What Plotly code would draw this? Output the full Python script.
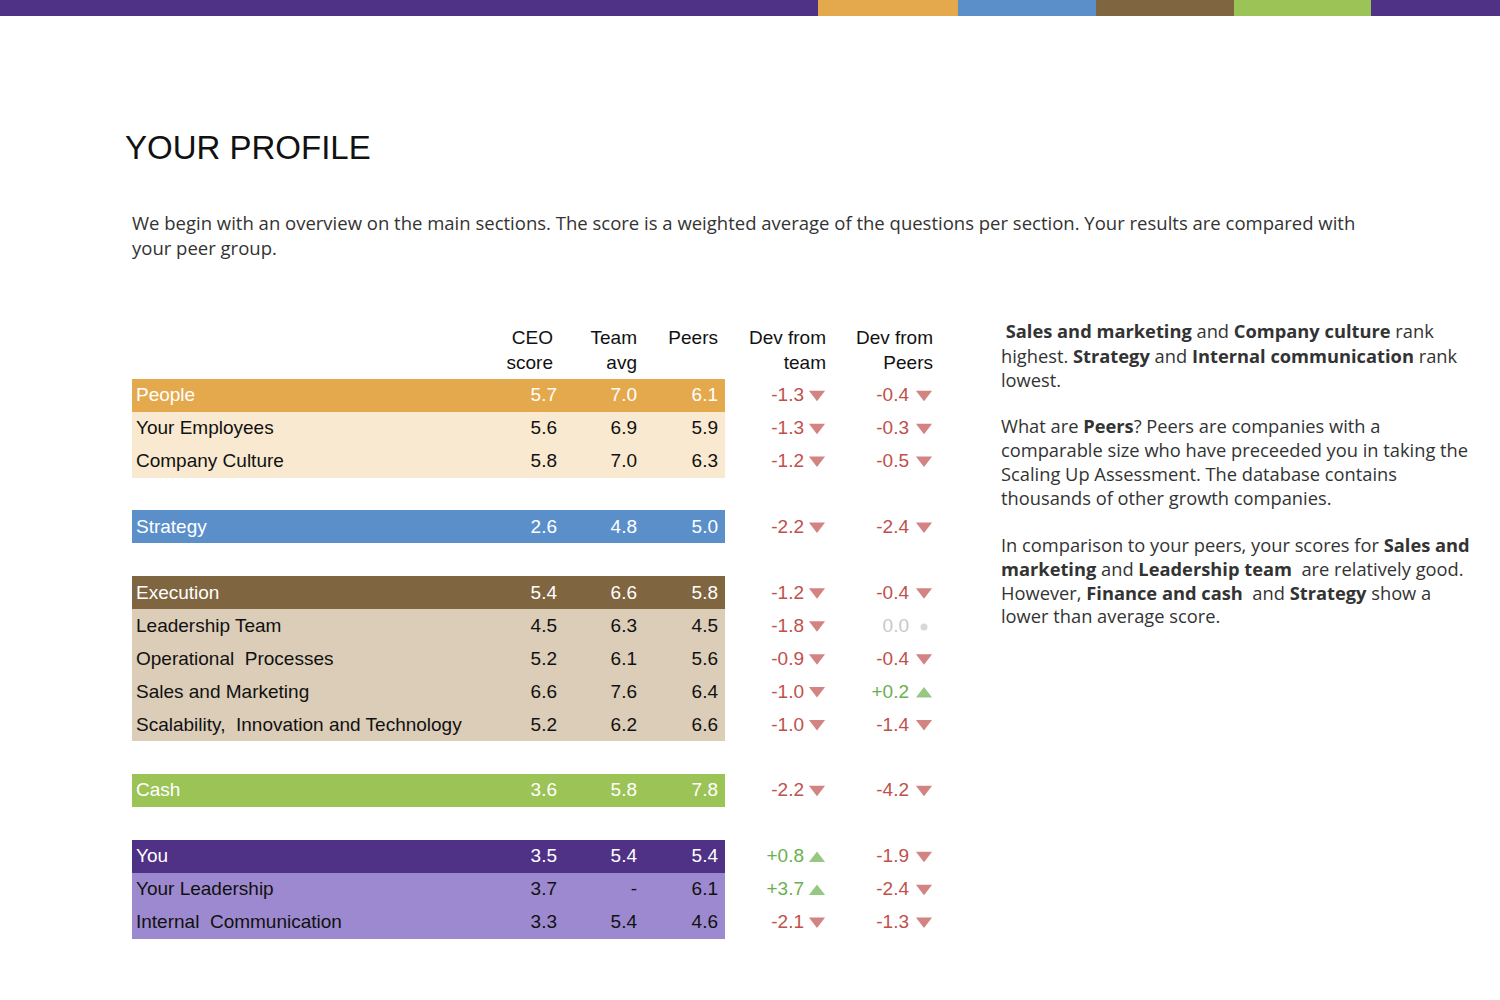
import plotly.graph_objects as go

# ---------------- data ----------------
row_labels = ["People", "Your Employees", "Company Culture",
              "Strategy",
              "Execution", "Leadership Team", "Operational  Processes", "Sales and Marketing",
              "Scalability,  Innovation and Technology",
              "Cash",
              "You", "Your Leadership", "Internal  Communication"]
row_section = ["People", "People", "People",
               "Strategy",
               "Execution", "Execution", "Execution", "Execution", "Execution",
               "Cash",
               "You", "You", "You"]
row_is_header = [True, False, False, True, True, False, False, False, False, True, True, False, False]
ceo_score = [5.7, 5.6, 5.8, 2.6, 5.4, 4.5, 5.2, 6.6, 5.2, 3.6, 3.5, 3.7, 3.3]
team_avg = [7.0, 6.9, 7.0, 4.8, 6.6, 6.3, 6.1, 7.6, 6.2, 5.8, 5.4, None, 5.4]
peers = [6.1, 5.9, 6.3, 5.0, 5.8, 4.5, 5.6, 6.4, 6.6, 7.8, 5.4, 6.1, 4.6]
dev_team = [-1.3, -1.3, -1.2, -2.2, -1.2, -1.8, -0.9, -1.0, -1.0, -2.2, 0.8, 3.7, -2.1]
dev_peers = [-0.4, -0.3, -0.5, -2.4, -0.4, 0.0, -0.4, 0.2, -1.4, -4.2, -1.9, -2.4, -1.3]

column_headers = ["CEO<br>score", "Team<br>avg", "Peers<br>&nbsp;", "Dev from<br>team", "Dev from<br>Peers"]

section_dark = {"People": "#E4A94D", "Strategy": "#5B8FCA", "Execution": "#7F6540",
                "Cash": "#9BC356", "You": "#4F3285"}
section_light = {"People": "#F8E9D0", "Strategy": "#5B8FCA", "Execution": "#DBCDB8",
                 "Cash": "#9BC356", "You": "#9D89CF"}

strip_colors = ["#4F3285", "#E4A94D", "#5B8FCA", "#7F6540", "#9BC356", "#4F3285"]

# ---------------- layout helpers ----------------
W, H = 1500, 1000
ROW0_PX, ROW_PX = 395.2, 32.93
TEXT_DY = 0.04    # nudge text down slightly (row units)
SYM_DY = {"triangle-down": -0.03, "triangle-up": 0.07, "circle": 0.04}


def rpx(px):
    """pixel y -> row coordinate"""
    return (px - ROW0_PX) / ROW_PX


# row coordinates with a blank row between sections
row_y = []
r = 0
for i, s in enumerate(row_section):
    if i > 0 and s != row_section[i - 1]:
        r += 1
    row_y.append(r)
    r += 1
text_y = [v + TEXT_DY for v in row_y]

TABLE_L, TABLE_R = 132, 725
LABEL_X = 136
COL_X = [557, 637, 718]
DEV_NUM_X = [804, 909]
DEV_SYM_X = [817, 924]
HEAD_X = [553, 637, 718, 826, 933]

RED, GREEN, GREY = "#C0504D", "#6AB04F", "#C8C8C8"

fig = go.Figure()

# row backgrounds
bg_colors = [section_dark[s] if h else section_light[s] for s, h in zip(row_section, row_is_header)]
fig.add_trace(go.Bar(
    y=row_y, x=[TABLE_R - TABLE_L] * len(row_y), base=TABLE_L, orientation="h",
    width=1.0, marker=dict(color=bg_colors, line=dict(width=0)),
    hoverinfo="skip", showlegend=False))

txt_colors = ["#FFFFFF" if h else "#111111" for h in row_is_header]
FONT = "Liberation Sans, Arial, sans-serif"

# row labels
fig.add_trace(go.Scatter(
    x=[LABEL_X] * len(row_y), y=text_y, mode="text", text=row_labels,
    textposition="middle right", textfont=dict(family=FONT, size=19, color=txt_colors),
    hoverinfo="skip", showlegend=False))

# numeric columns
for cx, vals in zip(COL_X, [ceo_score, team_avg, peers]):
    fig.add_trace(go.Scatter(
        x=[cx] * len(row_y), y=text_y, mode="text",
        text=["-" if v is None else f"{v:.1f}" for v in vals],
        textposition="middle left", textfont=dict(family=FONT, size=19, color=txt_colors),
        hoverinfo="skip", showlegend=False))


def dev_fmt(v):
    if v > 0:
        return f"+{v:.1f}"
    if v == 0:
        return "0.0"
    return f"{v:.1f}"


def dev_col(v):
    return GREEN if v > 0 else (GREY if v == 0 else RED)


def dev_sym(v):
    return "triangle-up" if v > 0 else ("circle" if v == 0 else "triangle-down")


for nx, sx, vals in zip(DEV_NUM_X, DEV_SYM_X, [dev_team, dev_peers]):
    cols = [dev_col(v) for v in vals]
    syms = [dev_sym(v) for v in vals]
    fig.add_trace(go.Scatter(
        x=[nx] * len(row_y), y=text_y, mode="text", text=[dev_fmt(v) for v in vals],
        textposition="middle left", textfont=dict(family=FONT, size=19, color=cols),
        hoverinfo="skip", showlegend=False))
    fig.add_trace(go.Scatter(
        x=[sx] * len(row_y), y=[ry + SYM_DY[s] for ry, s in zip(row_y, syms)], mode="markers",
        marker=dict(symbol=syms, color=cols,
                    size=[7 if v == 0 else 14 for v in vals], line=dict(width=0)),
        hoverinfo="skip", showlegend=False))

# column headers
fig.add_trace(go.Scatter(
    x=HEAD_X, y=[rpx(352)] * len(HEAD_X), mode="text", text=column_headers,
    textposition="middle left", textfont=dict(family=FONT, size=19, color="#111111"),
    hoverinfo="skip", showlegend=False))

# ---------------- page decorations ----------------
strip_edges = [0, 818, 958, 1096, 1234, 1371, 1500]
shapes = []
for c, x0, x1 in zip(strip_colors, strip_edges[:-1], strip_edges[1:]):
    shapes.append(dict(type="rect", xref="paper", yref="paper",
                       x0=x0 / W, x1=x1 / W, y0=1 - 16 / H, y1=1,
                       fillcolor=c, line=dict(width=0), layer="above"))

annotations = []


def add_text(x, y, text, size, family, color="#333333"):
    annotations.append(dict(xref="paper", yref="paper", x=x / W, y=1 - y / H,
                            xanchor="left", yanchor="middle", showarrow=False, align="left",
                            text=text, font=dict(family=family, size=size, color=color)))


add_text(123, 147, "YOUR PROFILE", 33, FONT, "#111111")

PFONT = "Open Sans, sans-serif"
intro_lines = [
    (223, "We begin with an overview on the main sections. The score is a weighted average of the questions per section. Your results are compared with"),
    (247, "your peer group."),
]
for y, t in intro_lines:
    add_text(130, y, t, 18.5, PFONT)

side_lines = [
    (331, "&nbsp;<b>Sales and marketing</b> and <b>Company culture</b> rank"),
    (355, "highest. <b>Strategy</b> and <b>Internal communication</b> rank"),
    (379, "lowest."),
    (425, "What are <b>Peers</b>? Peers are companies with a"),
    (449, "comparable size who have preceeded you in taking the"),
    (473, "Scaling Up Assessment. The database contains"),
    (497, "thousands of other growth companies."),
    (544, "In comparison to your peers, your scores for <b>Sales and</b>"),
    (568, "<b>marketing</b> and <b>Leadership team</b>&nbsp; are relatively good."),
    (592, "However, <b>Finance and cash</b>&nbsp; and <b>Strategy</b> show a"),
    (615, "lower than average score."),
]
for y, t in side_lines:
    add_text(999, y, t, 18.3, PFONT)

fig.update_layout(
    width=W, height=H, margin=dict(l=0, r=0, t=0, b=0),
    paper_bgcolor="white", plot_bgcolor="white",
    xaxis=dict(range=[0, W], visible=False, fixedrange=True),
    yaxis=dict(range=[rpx(H), rpx(0)], visible=False, fixedrange=True),
    bargap=0, shapes=shapes, annotations=annotations, showlegend=False,
)

fig.write_html("out.html", config={"displayModeBar": False},
               post_script="document.body.style.margin='0';document.body.style.overflow='hidden';")
